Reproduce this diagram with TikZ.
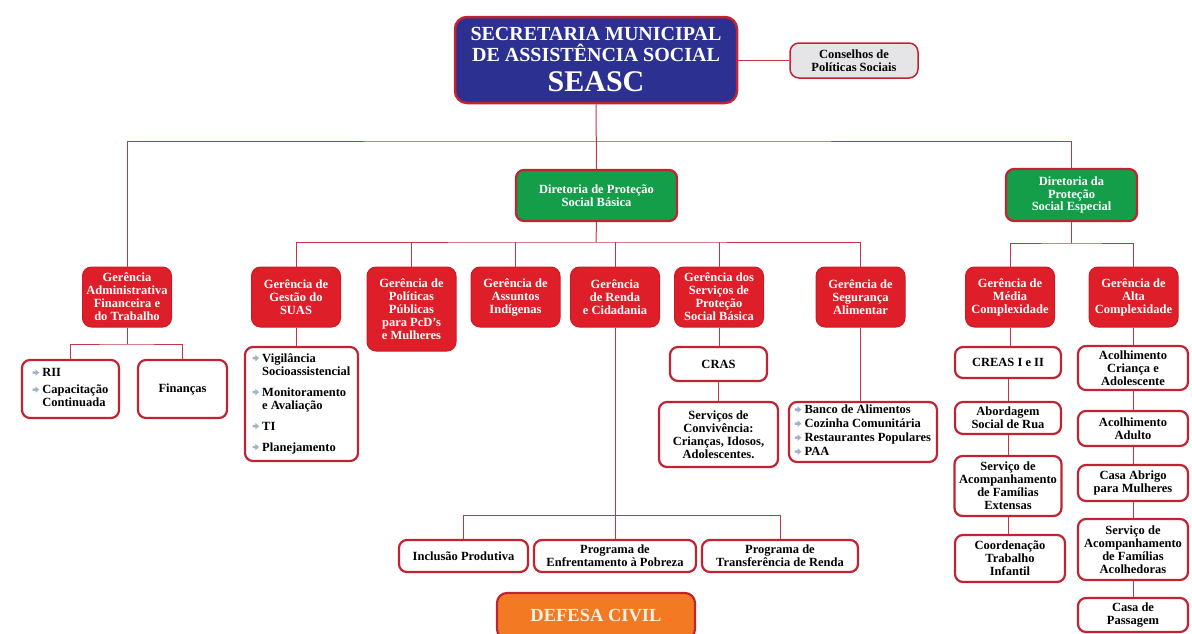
\documentclass[tikz,border=0pt]{standalone}
\usepackage{fontspec}
\setmainfont{Liberation Serif}

\definecolor{navy}{RGB}{44,48,145}
\definecolor{gred}{RGB}{222,30,40}
\definecolor{bord}{RGB}{192,36,50}
\definecolor{linec}{RGB}{196,54,64}
\definecolor{dgreen}{RGB}{20,158,74}
\definecolor{orng}{RGB}{243,122,34}
\definecolor{lgray}{RGB}{229,229,231}
\definecolor{bulletc}{RGB}{158,180,204}
\definecolor{ivory}{RGB}{255,241,222}

\newcommand{\gfont}{\bfseries\fontsize{12.5}{13}\selectfont}
% small arrow bullet
\newcommand{\bl}{\tikz[baseline=-4pt,x=1pt,y=1pt,sharp corners]\fill[bulletc] (0,1.3) -- (2.8,1.3) -- (2.8,3.2) -- (6.5,0) -- (2.8,-3.2) -- (2.8,-1.3) -- (0,-1.3) -- cycle;}

\begin{document}
\begin{tikzpicture}[x=1pt,y=-1pt,
	link/.style={draw=linec, line width=1pt},
	sec/.style={draw=bord, line width=2.5pt, fill=navy, rounded corners=12pt, text=white, align=center, inner sep=0pt,
		font=\bfseries\fontsize{20}{21}\selectfont, minimum width=282pt, minimum height=86pt},
	cons/.style={draw=bord, line width=1.5pt, fill=lgray, rounded corners=9pt, align=center, inner sep=0pt,
		font=\gfont, minimum width=128pt, minimum height=35pt},
	dir/.style={draw=bord, line width=2.2pt, fill=dgreen, rounded corners=8pt, text=white, align=center, inner sep=0pt,
		font=\bfseries\fontsize{12.5}{12.5}\selectfont},
	ger/.style={draw=gred!90!black, line width=1pt, fill=gred, rounded corners=9pt, text=white, align=center, inner sep=0pt,
		font=\gfont, minimum width=89pt, minimum height=60pt},
	sub/.style={draw=bord, line width=2.2pt, fill=white, rounded corners=8pt, align=center, inner sep=0pt,
		font=\gfont},
	civil/.style={draw=bord, line width=2.2pt, fill=orng, rounded corners=10pt, text=ivory, inner sep=0pt,
		font=\bfseries\fontsize{18.5}{19}\selectfont, minimum width=198pt, minimum height=46pt}]

	\useasboundingbox (0,0) rectangle (1192,633);
	\clip (0,0) rectangle (1192,633);

	% secretaria
	\node[sec] (seasc) at (596,60) {SECRETARIA MUNICIPAL\\DE ASSISTÊNCIA SOCIAL\\[9pt]{\fontsize{30}{30}\selectfont SEASC}};
	\node[cons] (cons) at (854,60.5) {Conselhos de\\Políticas Sociais};

	% diretorias
	\node[dir, minimum width=161pt, minimum height=51pt] (dirB) at (596.5,195.5) {Diretoria de Proteção\\Social Básica};
	\node[dir, minimum width=131pt, minimum height=52pt] (dirE) at (1071.5,195) {Diretoria da\\Proteção\\Social Especial};

	% gerencias
	\node[ger] (gAdm) at (127,297) {Gerência\\Administrativa\\Financeira e\\do Trabalho};
	\node[ger] (gSuas) at (296,297) {Gerência de\\Gestão do\\SUAS};
	\node[ger, minimum height=84pt] (gPcd) at (411.5,309) {Gerência de\\Políticas\\Públicas\\para PcD's\\e Mulheres};
	\node[ger] (gInd) at (515.5,297) {Gerência  de\\Assuntos\\Indígenas};
	\node[ger] (gRenda) at (615,297) {Gerência\\de Renda\\e Cidadania};
	\node[ger] (gServ) at (719,297) {Gerência dos\\Serviços de\\Proteção\\Social Básica};
	\node[ger] (gSeg) at (860.5,297) {Gerência de\\Segurança\\Alimentar};
	\node[ger] (gMedia) at (1010,297) {Gerência de\\Média\\Complexidade};
	\node[ger] (gAlta) at (1133.5,297) {Gerência de\\Alta\\Complexidade};

	% adm
	\node[sub, minimum width=97pt, minimum height=58pt] (rii) at (70.5,389)
		{\begin{tabular}{@{}l@{\ }l@{}}\bl & RII\\[4pt] \bl & Capacitação\\ & Continuada\end{tabular}};
	\node[sub, minimum width=89pt, minimum height=58pt] (fin) at (182.5,389) {Finanças};

	% suas
	\node[sub, minimum width=113pt, minimum height=114pt] (suasL) at (301.5,404)
		{\begin{tabular}{@{}l@{\ }l@{}}\bl & Vigilância\\ & Socioassistencial\\[8pt]
		\bl & Monitoramento\\ & e Avaliação\\[8pt] \bl & TI\\[8pt] \bl & Planejamento\end{tabular}};

	% protecao basica
	\node[sub, minimum width=97pt, minimum height=34pt] (cras) at (718.5,364) {CRAS};
	\node[sub, minimum width=119pt, minimum height=65pt] (conv) at (718.5,434.5) {Serviços de\\Convivência:\\Crianças, Idosos,\\Adolescentes.};
	\node[sub, minimum width=148pt, minimum height=60pt] (segL) at (863,432)
		{\begin{tabular}{@{}l@{\ }l@{}}\bl & Banco de Alimentos\\[1pt] \bl & Cozinha Comunitária\\[1pt]
		\bl & Restaurantes Populares\\[1pt] \bl & PAA\end{tabular}};

	% renda
	\node[sub, minimum width=129pt, minimum height=32pt] (inc) at (463.5,556) {Inclusão Produtiva};
	\node[sub, minimum width=162pt, minimum height=32pt] (enf) at (615,556) {Programa de\\Enfrentamento à Pobreza};
	\node[sub, minimum width=156pt, minimum height=32pt] (trf) at (780,556) {Programa de\\Transferência de Renda};
	\node[civil] (defesa) at (596,616) {DEFESA CIVIL};

	% media complexidade
	\node[sub, minimum width=106pt, minimum height=31pt] (creas) at (1008,362.5) {CREAS I  e II};
	\node[sub, minimum width=106pt, minimum height=32pt] (abord) at (1008,418) {Abordagem\\Social de Rua};
	\node[sub, minimum width=107pt, minimum height=60pt] (ext) at (1008,486) {Serviço de\\Acompanhamento\\de Famílias\\Extensas};
	\node[sub, minimum width=110pt, minimum height=47pt] (coord) at (1010,558.5) {Coordenação\\Trabalho\\Infantil};

	% alta complexidade
	\node[sub, minimum width=110pt, minimum height=44pt] (acCri) at (1133,368) {Acolhimento\\Criança e\\Adolescente};
	\node[sub, minimum width=110pt, minimum height=35pt] (acAd) at (1133,428.5) {Acolhimento\\Adulto};
	\node[sub, minimum width=110pt, minimum height=36pt] (casaAb) at (1133,483) {Casa Abrigo\\para Mulheres};
	\node[sub, minimum width=110pt, minimum height=61pt] (acolh) at (1133,549.5) {Serviço de\\Acompanhamento\\de Famílias\\Acolhedoras};
	\node[sub, minimum width=110pt, minimum height=34pt] (pass) at (1133,615) {Casa de\\Passagem};

	% lines
	\coordinate (top) at (596,141);
	\coordinate (basB) at (596,242);
	\coordinate (basE) at (1071.5,243);
	\coordinate (basAdm) at (127,344);
	\coordinate (basR) at (615,515);
	\draw[link] (seasc.east) -- (seasc.east -| cons.west);
	\draw[link] (seasc.south) -- (dirB.north);
	\draw[link] (gAdm.north) |- (top) -| (dirE.north);
	\draw[link] (dirB.south) -- (basB);
	\draw[link] (gSuas.north) |- (basB) -| (gSeg.north);
	\foreach \g in {gPcd,gInd,gRenda,gServ}
		\draw[link] (\g.north) -- (\g.north |- basB);
	\draw[link] (dirE.south) -- (basE);
	\draw[link] (gMedia.north) |- (basE) -| (gAlta.north);
	\draw[link] (gAdm.south) -- (basAdm);
	\draw[link] (rii.north) |- (basAdm) -| (fin.north);
	\draw[link] (gRenda.south) -- (enf.north);
	\draw[link] (inc.north) |- (basR) -| (trf.north);
	\foreach \a/\b in {gSuas/suasL, gServ/cras, cras/conv, gSeg/segL, gMedia/creas, creas/abord, abord/ext, ext/coord,
		gAlta/acCri, acCri/acAd, acAd/casaAb, casaAb/acolh, acolh/pass}
		\draw[link] (\a.south) -- (\a.south |- \b.north);

\end{tikzpicture}
\end{document}
